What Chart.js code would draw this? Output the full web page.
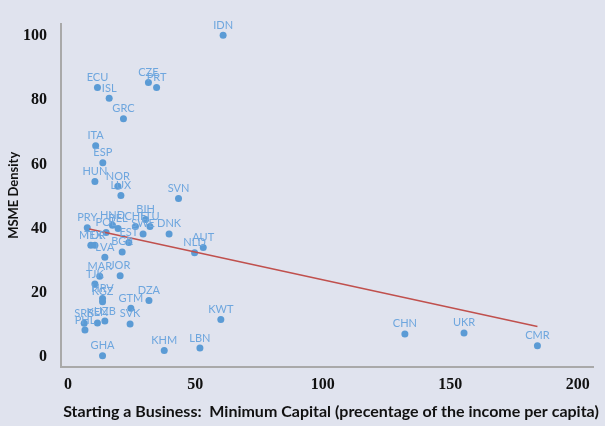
<!DOCTYPE html>
<html>
<head>
<meta charset="utf-8">
<title>MSME Density vs Minimum Capital</title>
<script src="https://cdn.jsdelivr.net/npm/chart.js@4/dist/chart.umd.min.js"></script>
<style>
	html, body { margin: 0; padding: 0; background: #e0e3ee; }
	#wrap { position: relative; width: 605px; height: 426px; }
</style>
</head>
<body>
<div id="wrap"><canvas id="myChart"></canvas></div>
<script>
/* 국가 코드 */
var countries = ['IDN', 'ECU', 'ISL', 'CZE', 'PRT', 'GRC', 'ITA', 'ESP', 'HUN', 'NOR',
	'LUX', 'SVN', 'PRY', 'POL', 'HND', 'BEL', 'CHE', 'BIH', 'LTU', 'SWE',
	'EST', 'BGR', 'DNK', 'NLD', 'AUT', 'MEX', 'TUR', 'LVA', 'MAR', 'JOR',
	'TJK', 'HRV', 'KGZ', 'DZA', 'GTM', 'KWT', 'SVK', 'UZB', 'SRB', 'KEN',
	'PHL', 'GHA', 'KHM', 'LBN', 'CHN', 'UKR', 'CMR'];
/* 최소자본 (1인당 소득 대비 %) */
var minCapital = [60.9, 11.6, 16.2, 31.6, 34.8, 21.8, 10.9, 13.7, 10.6, 19.6,
	20.8, 43.4, 7.6, 15.0, 17.5, 19.7, 26.5, 30.5, 32.2, 29.5,
	23.9, 21.3, 39.7, 49.7, 53.1, 9.0, 10.6, 14.5, 12.5, 20.5,
	10.6, 13.6, 13.6, 31.8, 24.7, 60.0, 24.4, 14.5, 6.4, 11.6,
	6.7, 13.6, 37.8, 51.8, 132.2, 155.4, 184.2];
/* MSME 밀도 */
var msmeDensity = [100.2, 83.9, 80.6, 85.5, 83.9, 74.2, 65.8, 60.5, 54.7, 53.2,
	50.3, 49.4, 40.3, 38.8, 41.1, 40.1, 40.7, 42.9, 40.7, 38.4,
	35.7, 32.8, 38.4, 32.5, 34.2, 34.9, 34.9, 31.1, 25.2, 25.4,
	22.8, 18.3, 17.3, 17.7, 15.3, 11.8, 10.4, 11.3, 10.6, 10.7,
	8.5, 0.5, 2.1, 2.9, 7.3, 7.6, 3.6];
/* 추세선 양 끝점 */
var trendX = [8.4, 184.2];
var trendY = [39.9, 9.6];
/* 눈금 */
var xTicks = [0, 50, 100, 150, 200];
var yTicks = [0, 20, 40, 60, 80, 100];

var xTitle = 'Starting a Business:  Minimum Capital (precentage of the income per capita)';
var yTitle = 'MSME Density';

/* 점 라벨 그리기 */
var pointLabelPlugin = {
	id: 'pointLabels',
	afterDatasetsDraw: function(chart){
		var meta = chart.getDatasetMeta(0);
		var ctx = chart.ctx;
		ctx.save();
		ctx.font = '11px Lato';
		ctx.fillStyle = '#6ea6de';
		ctx.textAlign = 'center';
		ctx.textBaseline = 'middle';
		meta.data.forEach(function(pt, i){
			ctx.fillText(countries[i], pt.x, pt.y - 10);
		});
		ctx.restore();
	}
};

/* x축 제목 (폭 제한 없이) */
var xTitlePlugin = {
	id: 'xTitle',
	afterDraw: function(chart){
		var ctx = chart.ctx;
		ctx.save();
		ctx.font = 'bold 16px Lato';
		ctx.fillStyle = '#111';
		ctx.textAlign = 'center';
		ctx.textBaseline = 'middle';
		ctx.fillText(xTitle, 331, 412);
		ctx.restore();
	}
};

function createChart(){
	var points = countries.map(function(c, i){ return {x: minCapital[i], y: msmeDensity[i]}; });
	var trend = trendX.map(function(v, i){ return {x: v, y: trendY[i]}; });
	var ctx = document.getElementById('myChart').getContext('2d');
	var myChart = new Chart(ctx, {
		type: 'scatter',
		data: {
			datasets: [{
				data: points,
				backgroundColor: '#5b9bd5',
				borderColor: '#5b9bd5',
				pointRadius: 3.5,
				borderWidth: 0
			}, {
				type: 'line',
				data: trend,
				borderColor: '#c0504d',
				borderWidth: 1.5,
				pointRadius: 0,
				fill: false,
				order: -1
			}]
		},
		options: {
			responsive: true,
			maintainAspectRatio: false,
			animation: false,
			layout: { padding: { top: 5, right: 12, left: 0, bottom: 0 } },
			plugins: { legend: { display: false }, tooltip: { enabled: false } },
			scales: {
				x: {
					type: 'linear',
					min: -2.7,
					max: 206,
					afterBuildTicks: function(axis){ axis.ticks = xTicks.map(function(v){ return {value: v}; }); },
					afterFit: function(axis){ axis.height = 59; },
					grid: { color: 'transparent', drawTicks: false },
					border: { display: true, color: '#a9a9a9', width: 2 },
					ticks: { color: '#111', padding: 8, font: { family: 'Liberation Serif', size: 16, weight: 'bold' } }
				},
				y: {
					type: 'linear',
					min: -3,
					max: 103.8,
					afterBuildTicks: function(axis){ axis.ticks = yTicks.map(function(v){ return {value: v}; }); },
					afterFit: function(axis){ axis.width = 61; },
					grid: { color: 'transparent', drawTicks: false },
					border: { display: true, color: '#a9a9a9', width: 2 },
					ticks: { color: '#111', padding: 14, font: { family: 'Liberation Serif', size: 16, weight: 'bold' } },
					title: { display: true, text: yTitle, color: '#111', padding: { top: 6, bottom: 0 },
						font: { family: 'Lato', size: 13, weight: 'bold' } }
				}
			}
		},
		plugins: [pointLabelPlugin, xTitlePlugin]
	});
}

createChart();
</script>
</body>
</html>
